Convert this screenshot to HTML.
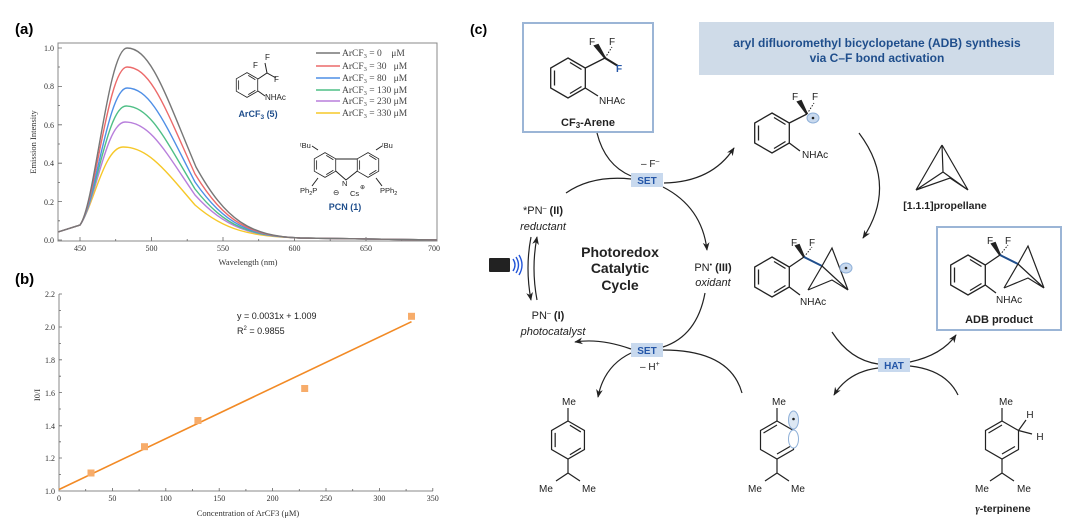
<!DOCTYPE html>
<html><head><meta charset="utf-8"><style>
body{margin:0;background:#fff}
svg{display:block}
.s{font-family:"Liberation Serif",serif}
.a{font-family:"Liberation Sans",sans-serif}
</style></head><body>
<svg width="1080" height="523" viewBox="0 0 1080 523" xmlns="http://www.w3.org/2000/svg">
<defs>
<marker id="ah" viewBox="0 0 10 10" refX="9" refY="5" markerWidth="7" markerHeight="7" orient="auto"><path d="M0,1 L10,5 L0,9 L3,5Z" fill="#222"/></marker>
<g id="ring" fill="none" stroke="#222" stroke-width="1.3">
<path d="M0,-20 L17.3,-10 L17.3,10 L0,20 L-17.3,10 L-17.3,-10Z"/>
<path d="M-13.5,-7.5 L-13.5,7.5 M2,15.5 L13.5,8.5 M2,-15.5 L13.5,-8.5"/>
</g>
<g id="cage" fill="none" stroke="#222" stroke-width="1.2">
<path d="M0,0 L26,-5 M26,-5 L30,-22 M30,-22 L48,24 M26,-5 L8,22 M26,-5 L48,24 M8,22 L30,12 L48,24 M30,-22 L30,12"/>
</g>
</defs>

<!-- ============ Panel a ============ -->
<text x="15" y="34" class="a" font-size="15" font-weight="bold">(a)</text>
<rect x="58" y="43" width="379" height="198" fill="none" stroke="#888" stroke-width="1"/>
<g class="s" font-size="8" fill="#333" text-anchor="end">
<text x="54" y="51">1.0</text><text x="54" y="89">0.8</text><text x="54" y="128">0.6</text><text x="54" y="166">0.4</text><text x="54" y="205">0.2</text><text x="54" y="243">0.0</text>
</g>
<g stroke="#666" stroke-width="0.8">
<path d="M58,48h4M58,86.4h4M58,124.8h4M58,163.2h4M58,201.6h4M58,240h4M58,67h2M58,105.6h2M58,144h2M58,182.4h2M58,220.8h2"/>
<path d="M80,241v-4M151.5,241v-4M223,241v-4M294.5,241v-4M366,241v-4M115.7,241v-2M187.2,241v-2M258.7,241v-2M330.2,241v-2M401.7,241v-2"/>
</g>
<g class="s" font-size="8" fill="#333" text-anchor="middle">
<text x="80" y="251">450</text><text x="151.5" y="251">500</text><text x="223" y="251">550</text><text x="294.5" y="251">600</text><text x="366" y="251">650</text><text x="434" y="251">700</text>
</g>
<text x="248" y="265" class="s" font-size="8.5" text-anchor="middle" fill="#333">Wavelength (nm)</text>
<text transform="translate(36,142) rotate(-90)" class="s" font-size="8.5" text-anchor="middle" fill="#333">Emission Intensity</text>
<g fill="none" stroke-width="1.4">
<path stroke="#f6c829" d="M58,232 L80,225 C94,205 104,147 123,147 C148,147 165,170 195,205 C225,231 250,236 300,238 L437,240"/>
<path stroke="#b87fdc" d="M58,232 L80,225 C95,205 106,122 125,122 C150,122 165,151 195,195 C225,228 250,236 300,238 L437,240"/>
<path stroke="#4fbf86" d="M58,232 L80,225 C95,205 107,106 126,106 C150,106 165,139 195,189 C225,227 250,236 300,238 L437,240"/>
<path stroke="#4f8fe6" d="M58,232 L80,225 C95,205 108,88 127,88 C151,88 166,126 195,182 C225,225 250,236 300,238 L437,240"/>
<path stroke="#ec6a6a" d="M58,232 L80,225 C95,205 108,67 127,67 C151,67 166,110 195,174 C225,223 250,236 300,238 L437,240"/>
<path stroke="#777" d="M58,232 L80,225 C95,205 108,48 127,48 C151,48 166,96 196,167 C226,221 250,236 300,238 L437,240"/>
</g>
<g stroke-width="1.6">
<line x1="316" y1="53" x2="340" y2="53" stroke="#777"/>
<line x1="316" y1="66" x2="340" y2="66" stroke="#ec6a6a"/>
<line x1="316" y1="78" x2="340" y2="78" stroke="#4f8fe6"/>
<line x1="316" y1="90" x2="340" y2="90" stroke="#4fbf86"/>
<line x1="316" y1="101" x2="340" y2="101" stroke="#b87fdc"/>
<line x1="316" y1="113" x2="340" y2="113" stroke="#f6c829"/>
</g>
<g class="s" font-size="9.5" fill="#444">
<text x="342" y="56">ArCF<tspan font-size="6.5" dy="2">3</tspan><tspan dy="-2"> = 0 &#160;&#160; μM</tspan></text>
<text x="342" y="69">ArCF<tspan font-size="6.5" dy="2">3</tspan><tspan dy="-2"> = 30 &#160; μM</tspan></text>
<text x="342" y="81">ArCF<tspan font-size="6.5" dy="2">3</tspan><tspan dy="-2"> = 80 &#160; μM</tspan></text>
<text x="342" y="93">ArCF<tspan font-size="6.5" dy="2">3</tspan><tspan dy="-2"> = 130 μM</tspan></text>
<text x="342" y="104">ArCF<tspan font-size="6.5" dy="2">3</tspan><tspan dy="-2"> = 230 μM</tspan></text>
<text x="342" y="116">ArCF<tspan font-size="6.5" dy="2">3</tspan><tspan dy="-2"> = 330 μM</tspan></text>
</g>
<!-- ArCF3 (5) -->
<g transform="translate(247,85) scale(0.62)"><use href="#ring"/></g>
<path d="M258,79 L267,73 L276,78 M267,73 L265,63 M258,91 L265,96" fill="none" stroke="#222" stroke-width="1"/>
<g class="a" font-size="8" fill="#222"><text x="253" y="68">F</text><text x="265" y="60">F</text><text x="274" y="82">F</text><text x="265" y="100">NHAc</text></g>
<text x="258" y="117" class="a" font-size="9" font-weight="bold" fill="#1f4e8c" text-anchor="middle">ArCF<tspan font-size="6.5" dy="2">3</tspan><tspan dy="-2"> (5)</tspan></text>
<!-- PCN -->
<g transform="translate(325,165) scale(0.62)"><use href="#ring"/></g>
<g transform="translate(368,165) scale(0.62)"><use href="#ring"/></g>
<path d="M335.7,171 L346,180 L357.3,171 M336,159 L357,159 M318,150 L312,146 M376,150 L382,146 M318,178 L312,186 M376,178 L382,186" fill="none" stroke="#222" stroke-width="1"/>
<g class="a" font-size="7.5" fill="#222">
<text x="300" y="148">ᵗBu</text><text x="382" y="148">ᵗBu</text><text x="342" y="186">N</text>
<text x="300" y="193">Ph<tspan font-size="5.5" dy="2">2</tspan><tspan dy="-2">P</tspan></text>
<text x="380" y="193">PPh<tspan font-size="5.5" dy="2">2</tspan></text>
<text x="333" y="195">⊖</text><text x="350" y="196">Cs</text><text x="360" y="189" font-size="6">⊕</text>
</g>
<text x="345" y="210" class="a" font-size="9" font-weight="bold" fill="#1f4e8c" text-anchor="middle">PCN (1)</text>

<!-- ============ Panel b ============ -->
<text x="15" y="284" class="a" font-size="15" font-weight="bold">(b)</text>
<path d="M59,294 V491 H433" fill="none" stroke="#888" stroke-width="1"/>
<g stroke="#666" stroke-width="0.8">
<path d="M59,294h3M59,327h3M59,359.8h3M59,392.6h3M59,425.8h3M59,458h3M59,310.5h2M59,343.4h2M59,376.2h2M59,409h2M59,441.8h2M59,474.6h2"/>
<path d="M112.4,491v-3M165.8,491v-3M219.2,491v-3M272.6,491v-3M326,491v-3M379.4,491v-3M432.8,491v-3M85.7,491v-2M139.1,491v-2M192.5,491v-2M245.9,491v-2M299.3,491v-2M352.7,491v-2M406.1,491v-2"/>
</g>
<g class="s" font-size="8" fill="#333" text-anchor="end">
<text x="55" y="297">2.2</text><text x="55" y="330">2.0</text><text x="55" y="363">1.8</text><text x="55" y="396">1.6</text><text x="55" y="429">1.4</text><text x="55" y="461">1.2</text><text x="55" y="494">1.0</text>
</g>
<g class="s" font-size="8" fill="#333" text-anchor="middle">
<text x="59" y="501">0</text><text x="112.4" y="501">50</text><text x="165.8" y="501">100</text><text x="219.2" y="501">150</text><text x="272.6" y="501">200</text><text x="326" y="501">250</text><text x="379.4" y="501">300</text><text x="432.8" y="501">350</text>
</g>
<text x="248" y="516" class="s" font-size="8.5" text-anchor="middle" fill="#333">Concentration of ArCF3 (μM)</text>
<text transform="translate(40,395) rotate(-90)" class="s" font-size="8.5" text-anchor="middle" fill="#333">I0/I</text>
<line x1="59" y1="489.5" x2="411.5" y2="321.7" stroke="#f28a25" stroke-width="1.6"/>
<g fill="#f7ac6a">
<rect x="87.5" y="469.5" width="7" height="7"/><rect x="141" y="443.2" width="7" height="7"/><rect x="194.4" y="417" width="7" height="7"/><rect x="301.2" y="385" width="7" height="7"/><rect x="408" y="312.8" width="7" height="7"/>
</g>
<g class="a" font-size="9" fill="#222"><text x="237" y="319">y = 0.0031x + 1.009</text><text x="237" y="334">R<tspan font-size="6" dy="-4">2</tspan><tspan dy="4"> = 0.9855</tspan></text></g>

<!-- ============ Panel c ============ -->
<text x="470" y="34" class="a" font-size="14" font-weight="bold">(c)</text>
<rect x="699" y="22" width="355" height="53" fill="#cfdbe8"/>
<g class="a" font-size="12" font-weight="bold" fill="#1f4e8c" text-anchor="middle">
<text x="877" y="47">aryl difluoromethyl bicyclopetane (ADB) synthesis</text>
<text x="877" y="62">via C–F bond activation</text>
</g>
<!-- CF3 arene box -->
<rect x="523" y="23" width="130" height="109" fill="#fff" stroke="#9bb5d6" stroke-width="2"/>
<use href="#ring" x="568" y="78"/>
<path d="M585.3,68 L605,58 M568,98 M585.3,88 L598,96" fill="none" stroke="#222" stroke-width="1.3"/>
<path d="M605,58 L595,46 L598,45Z M605,58 L618,66" stroke="#222" stroke-width="2" fill="#222"/>
<path d="M605,58 L612,47" stroke="#222" stroke-width="1" stroke-dasharray="1.5,1.5"/>
<g class="a" font-size="10" fill="#222"><text x="589" y="45">F</text><text x="609" y="45">F</text><text x="599" y="104">NHAc</text></g>
<text x="616" y="72" class="a" font-size="10" font-weight="bold" fill="#2456a8">F</text>
<text x="588" y="126" class="a" font-size="11" font-weight="bold" fill="#222" text-anchor="middle">CF<tspan font-size="8" dy="2">3</tspan><tspan dy="-2">-Arene</tspan></text>
<!-- radical ArCF2 -->
<use href="#ring" x="772" y="133"/>
<path d="M789.3,123 L807,114 M789.3,143 L800,151" fill="none" stroke="#222" stroke-width="1.3"/>
<path d="M807,114 L798,102 L801,101Z" stroke="#222" stroke-width="2" fill="#222"/>
<path d="M807,114 L814,103" stroke="#222" stroke-width="1" stroke-dasharray="1.5,1.5"/>
<ellipse cx="813" cy="118" rx="6" ry="5" fill="#c8d9ee" stroke="#8fb0d8"/><circle cx="813" cy="118" r="1.3" fill="#222"/>
<g class="a" font-size="10" fill="#222"><text x="792" y="100">F</text><text x="812" y="100">F</text><text x="802" y="158">NHAc</text></g>
<!-- propellane -->
<path d="M942,145 L916,190 M942,145 L968,190 M942,145 L943,172 M916,190 L943,172 L968,190 M916,190 L950,178 L968,190" fill="none" stroke="#222" stroke-width="1.2"/>
<text x="945" y="209" class="a" font-size="10.5" font-weight="bold" fill="#222" text-anchor="middle">[1.1.1]propellane</text>
<!-- bicyclo intermediate -->
<use href="#ring" x="772" y="277"/>
<path d="M789.3,267 L804,257 M789.3,287 L800,295" fill="none" stroke="#222" stroke-width="1.3"/>
<path d="M804,257 L796,246 L799,245Z" stroke="#222" stroke-width="2" fill="#222"/>
<path d="M804,257 L812,247" stroke="#222" stroke-width="1" stroke-dasharray="1.5,1.5"/>
<line x1="804" y1="257" x2="822" y2="266" stroke="#1f4e8c" stroke-width="2"/>
<path d="M822,266 L832,248 L848,290 M822,266 L808,290 M822,266 L848,290 M808,290 L832,280 L848,290" fill="none" stroke="#222" stroke-width="1.2"/>
<ellipse cx="846" cy="268" rx="6" ry="5" fill="#c8d9ee" stroke="#8fb0d8"/><circle cx="846" cy="268" r="1.3" fill="#222"/>
<g class="a" font-size="10" fill="#222"><text x="791" y="246">F</text><text x="809" y="246">F</text><text x="800" y="305">NHAc</text></g>
<!-- ADB box -->
<rect x="937" y="227" width="124" height="103" fill="#fff" stroke="#9bb5d6" stroke-width="2"/>
<use href="#ring" x="968" y="275"/>
<path d="M985.3,265 L1000,255 M985.3,285 L996,293" fill="none" stroke="#222" stroke-width="1.3"/>
<path d="M1000,255 L992,244 L995,243Z" stroke="#222" stroke-width="2" fill="#222"/>
<path d="M1000,255 L1008,245" stroke="#222" stroke-width="1" stroke-dasharray="1.5,1.5"/>
<line x1="1000" y1="255" x2="1018" y2="264" stroke="#1f4e8c" stroke-width="2"/>
<path d="M1018,264 L1028,246 L1044,288 M1018,264 L1004,288 M1018,264 L1044,288 M1004,288 L1028,278 L1044,288" fill="none" stroke="#222" stroke-width="1.2"/>
<g class="a" font-size="10" fill="#222"><text x="987" y="244">F</text><text x="1005" y="244">F</text><text x="996" y="303">NHAc</text></g>
<text x="999" y="323" class="a" font-size="11" font-weight="bold" fill="#222" text-anchor="middle">ADB product</text>
<!-- SET / HAT boxes -->
<rect x="631" y="173" width="32" height="14" fill="#c8d9ee"/>
<text x="647" y="184" class="a" font-size="10" font-weight="bold" fill="#2456a8" text-anchor="middle">SET</text>
<rect x="631" y="343" width="32" height="14" fill="#c8d9ee"/>
<text x="647" y="354" class="a" font-size="10" font-weight="bold" fill="#2456a8" text-anchor="middle">SET</text>
<rect x="878" y="358" width="32" height="14" fill="#c8d9ee"/>
<text x="894" y="369" class="a" font-size="10" font-weight="bold" fill="#2456a8" text-anchor="middle">HAT</text>
<g class="a" font-size="10" fill="#222">
<text x="641" y="167">– F<tspan font-size="7" dy="-4">–</tspan></text>
<text x="640" y="370">– H<tspan font-size="7" dy="-4">+</tspan></text>
</g>
<!-- arrows -->
<g fill="none" stroke="#222" stroke-width="1.2">
<path d="M597,133 Q605,165 631,176"/>
<path d="M566,193 Q592,175 631,179"/>
<path d="M664,183 Q712,182 734,148" marker-end="url(#ah)"/>
<path d="M663,187 Q702,207 707,250" marker-end="url(#ah)"/>
<path d="M705,293 Q697,336 663,347"/>
<path d="M631,349 Q600,338 575,342" marker-end="url(#ah)"/>
<path d="M631,353 Q604,366 598,397" marker-end="url(#ah)"/>
<path d="M742,393 Q730,350 663,350"/>
<path d="M859,133 Q898,185 863,238" marker-end="url(#ah)"/>
<path d="M832,332 Q850,360 878,364"/>
<path d="M910,362 Q942,355 956,335" marker-end="url(#ah)"/>
<path d="M878,368 Q848,372 834,395" marker-end="url(#ah)"/>
<path d="M958,395 Q946,370 910,366"/>
<path d="M537,300 Q531,268 537,237" marker-end="url(#ah)"/>
<path d="M531,237 Q525,268 531,300" marker-end="url(#ah)"/>
</g>
<!-- light -->
<rect x="489" y="258" width="21" height="14" rx="1" fill="#222"/>
<path d="M513,259 Q517,265 513,271 M516,257 Q521,265 516,273 M519,255 Q525,265 519,275" fill="none" stroke="#2456d8" stroke-width="1.4"/>
<!-- cycle labels -->
<g class="a" font-size="11" fill="#222" text-anchor="middle">
<text x="543" y="214">*PN<tspan font-size="7" dy="-4">–</tspan><tspan dy="4" font-weight="bold"> (II)</tspan></text>
<text x="543" y="230" font-style="italic">reductant</text>
<text x="548" y="319">PN<tspan font-size="7" dy="-4">–</tspan><tspan dy="4" font-weight="bold"> (I)</tspan></text>
<text x="553" y="335" font-style="italic">photocatalyst</text>
<text x="713" y="271">PN<tspan font-size="7" dy="-4">•</tspan><tspan dy="4" font-weight="bold"> (III)</tspan></text>
<text x="713" y="286" font-style="italic">oxidant</text>
</g>
<g class="a" font-size="14" font-weight="bold" fill="#222" text-anchor="middle">
<text x="620" y="257">Photoredox</text><text x="620" y="273">Catalytic</text><text x="620" y="290">Cycle</text>
</g>
<!-- p-cymene -->
<g transform="translate(568,440) scale(0.95)"><use href="#ring"/></g>
<path d="M568,421 L568,408 M568,459 L568,473 L556,481 M568,473 L580,481" fill="none" stroke="#222" stroke-width="1.2"/>
<g class="a" font-size="10" fill="#222" text-anchor="middle"><text x="569" y="405">Me</text><text x="546" y="492">Me</text><text x="589" y="492">Me</text></g>
<!-- radical cyclohexadienyl -->
<path d="M777,421 L793.5,430.5 L793.5,449.5 L777,459 L760.5,449.5 L760.5,430.5Z M763.5,433 L777,425 M777,454 L790,446.5" fill="none" stroke="#222" stroke-width="1.2"/>
<path d="M777,421 L777,408 M777,459 L777,473 L765,481 M777,473 L789,481" fill="none" stroke="#222" stroke-width="1.2"/>
<ellipse cx="793.5" cy="420" rx="5" ry="9" fill="#dde8f4" stroke="#8fb0d8"/>
<ellipse cx="793.5" cy="439" rx="5" ry="9" fill="#fff" stroke="#8fb0d8"/>
<circle cx="793.5" cy="419" r="1.3" fill="#222"/>
<g class="a" font-size="10" fill="#222" text-anchor="middle"><text x="779" y="405">Me</text><text x="755" y="492">Me</text><text x="798" y="492">Me</text></g>
<!-- gamma-terpinene -->
<path d="M1002,421 L1018.5,430.5 L1018.5,449.5 L1002,459 L985.5,449.5 L985.5,430.5Z M988.5,433 L1002,425 M1002,454 L1015,446.5" fill="none" stroke="#222" stroke-width="1.2"/>
<path d="M1002,421 L1002,408 M1002,459 L1002,473 L990,481 M1002,473 L1014,481 M1018.5,430.5 L1026,420 M1018.5,430.5 L1032,434" fill="none" stroke="#222" stroke-width="1.2"/>
<g class="a" font-size="10" fill="#222" text-anchor="middle"><text x="1006" y="405">Me</text><text x="1030" y="418">H</text><text x="1040" y="440">H</text><text x="982" y="492">Me</text><text x="1024" y="492">Me</text></g>
<text x="1003" y="512" class="a" font-size="10.5" font-weight="bold" fill="#222" text-anchor="middle"><tspan font-style="italic" font-family="Liberation Serif">γ</tspan>-terpinene</text>
</svg>
</body></html>
